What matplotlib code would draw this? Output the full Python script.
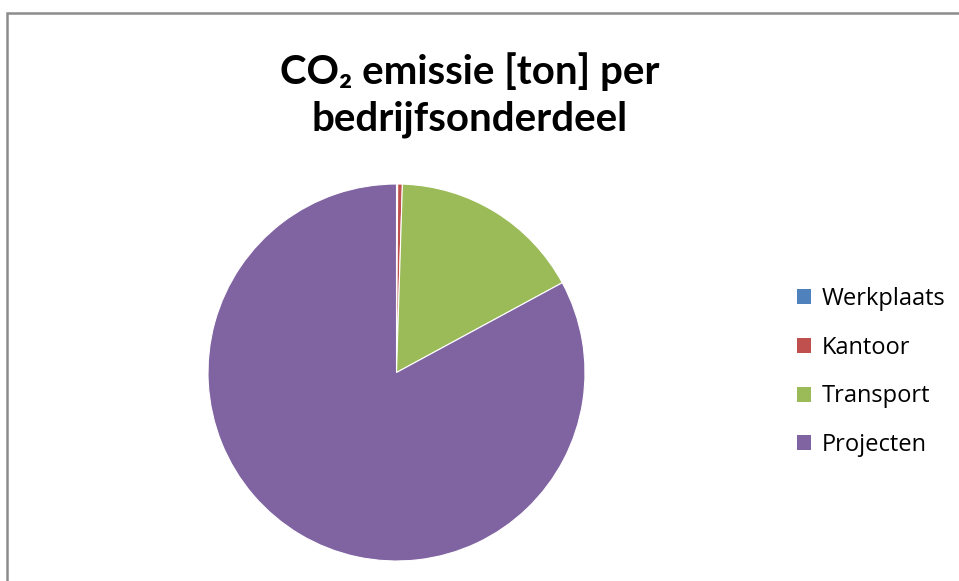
import matplotlib.pyplot as plt
from matplotlib.patches import Rectangle, Patch

# data (aandeel in procenten)
labels = ['Werkplaats', 'Kantoor', 'Transport', 'Projecten']
values = [0.1, 0.4, 16.6, 82.9]
colors = ['#4F81BD', '#C0504D', '#9BBB59', '#8064A2']

W, H = 959, 581
fig = plt.figure(figsize=(W / 100, H / 100), dpi=100)
fig.patch.set_facecolor('white')

# grijze kaderlijn (links en boven)
fig.add_artist(Rectangle((7 / W, -0.1), 1.2, (H - 13) / H + 0.1,
                         transform=fig.transFigure, fill=False,
                         edgecolor='#8c8c8c', linewidth=1.8))

# pie
ax = fig.add_axes([208 / W, (H - 561) / H, 377 / W, 377 / H])
ax.pie(values, colors=colors, startangle=90, counterclock=False,
       wedgeprops=dict(edgecolor='white', linewidth=0.8))
ax.set_xlim(-1, 1)
ax.set_ylim(-1, 1)
ax.set_aspect('equal')

# titel
fig.text(470 / W, 1 - 95 / H, 'CO\u2082 emissie [ton] per\nbedrijfsonderdeel',
         ha='center', va='center', fontsize=29, fontweight='bold',
         family=['Lato', 'DejaVu Sans'], linespacing=1.32)

# legenda
handles = [Patch(facecolor=c, edgecolor='none') for c in colors]
fig.legend(handles, labels, loc='center left', bbox_to_anchor=(776 / W, 1 - 372 / H),
           frameon=False, handlelength=0.6, handleheight=0.6,
           handletextpad=0.42, labelspacing=1.05,
           prop=dict(family='Open Sans', size=17))

fig.savefig('out.png', dpi=100)
